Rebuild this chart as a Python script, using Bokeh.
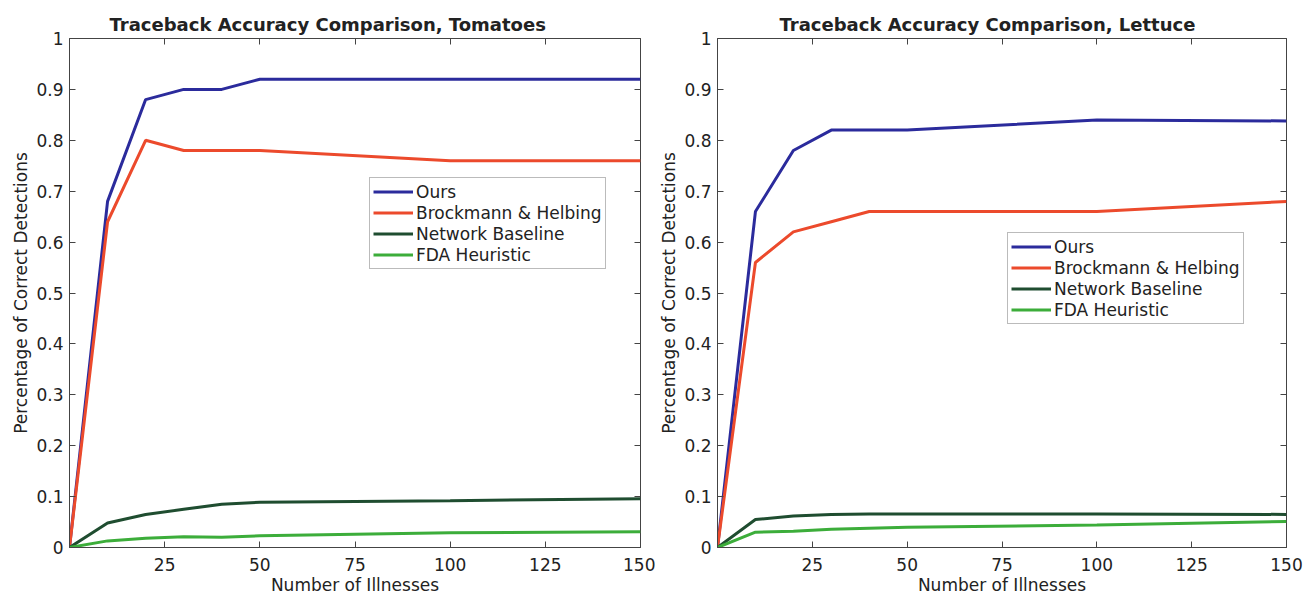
from bokeh.plotting import figure
from bokeh.layouts import row
from bokeh.models import (FixedTicker, LinearAxis, Range1d, Legend, LegendItem,
                          CustomJSTickFormatter, Title)
from bokeh.embed import file_html
from bokeh.resources import INLINE

# Number of illnesses observed
illnesses = [0, 10, 20, 30, 40, 50, 100, 150]

# Tomatoes: fraction of correct source detections
tomato_ours = [0.0, 0.68, 0.88, 0.90, 0.90, 0.92, 0.92, 0.92]
tomato_brockmann = [0.0, 0.64, 0.80, 0.78, 0.78, 0.78, 0.76, 0.76]
tomato_network = [0.0, 0.048, 0.065, 0.075, 0.085, 0.089, 0.092, 0.096]
tomato_fda = [0.0, 0.013, 0.018, 0.021, 0.020, 0.023, 0.029, 0.031]

# Lettuce: fraction of correct source detections
lettuce_ours = [0.0, 0.66, 0.78, 0.82, 0.82, 0.82, 0.84, 0.838]
lettuce_brockmann = [0.0, 0.56, 0.62, 0.64, 0.66, 0.66, 0.66, 0.68]
lettuce_network = [0.0, 0.055, 0.062, 0.065, 0.066, 0.066, 0.066, 0.065]
lettuce_fda = [0.0, 0.030, 0.032, 0.036, 0.038, 0.040, 0.044, 0.051]

series_names = ["Ours", "Brockmann & Helbing", "Network Baseline", "FDA Heuristic"]
series_colors = ["#2b2b9c", "#ec4a2c", "#1f4d30", "#3cad3a"]

x_ticks = [25, 50, 75, 100, 125, 150]
y_ticks = [0, 0.1, 0.2, 0.3, 0.4, 0.5, 0.6, 0.7, 0.8, 0.9, 1]

FONT = "DejaVu Sans"
AX_COLOR = "#444444"
TEXT_COLOR = "#222222"


def style_axis(ax, labels=True, standoff=8, label_standoff=2):
    ax.major_tick_in = 6
    ax.major_tick_out = 0
    ax.minor_tick_line_color = None
    ax.axis_line_color = AX_COLOR
    ax.major_tick_line_color = AX_COLOR
    if labels:
        ax.major_label_text_font = FONT
        ax.major_label_text_font_size = "17px"
        ax.major_label_text_color = TEXT_COLOR
        ax.major_label_standoff = standoff
        ax.axis_label_text_font = FONT
        ax.axis_label_text_font_size = "17px"
        ax.axis_label_text_font_style = "normal"
        ax.axis_label_text_color = TEXT_COLOR
        ax.axis_label_standoff = label_standoff
    else:
        # box ticks only: no labels on the mirrored sides
        ax.formatter = CustomJSTickFormatter(code="return '';")
        ax.major_label_standoff = 0
        ax.axis_line_color = None


def make_panel(title, values, width, b_left, b_right, b_top, title_offset, legend_loc):
    p = figure(width=width, height=597, output_backend="svg", toolbar_location=None,
               x_range=Range1d(0, 150), y_range=Range1d(0, 1),
               min_border_left=b_left, min_border_right=b_right,
               min_border_top=b_top, min_border_bottom=49,
               background_fill_color="white", border_fill_color="white")
    p.title = None
    p.grid.visible = False
    p.outline_line_color = AX_COLOR

    p.xaxis.ticker = FixedTicker(ticks=x_ticks)
    p.yaxis.ticker = FixedTicker(ticks=y_ticks)
    p.yaxis.formatter = CustomJSTickFormatter(
        code="return tick === 0 ? '0' : (tick === 1 ? '1' : tick.toFixed(1));")
    p.xaxis.axis_label = "Number of Illnesses"
    p.yaxis.axis_label = "Percentage of Correct Detections"
    style_axis(p.xaxis[0], standoff=10, label_standoff=1)
    style_axis(p.yaxis[0], standoff=6, label_standoff=2)

    # mirrored tick marks on the top and right edges of the box
    top = LinearAxis(ticker=FixedTicker(ticks=x_ticks))
    right = LinearAxis(ticker=FixedTicker(ticks=y_ticks))
    style_axis(top, labels=False)
    style_axis(right, labels=False)
    p.add_layout(top, "above")
    p.add_layout(right, "right")

    p.add_layout(Title(text=title, align="left", offset=title_offset,
                       text_font=FONT, text_font_size="18px", text_font_style="bold",
                       text_color=TEXT_COLOR, standoff=7), "above")

    items = []
    for name, color, ys in zip(series_names, series_colors, values):
        r = p.line(illnesses, ys, line_color=color, line_width=3)
        items.append(LegendItem(label=name, renderers=[r]))

    legend = Legend(items=items, location=legend_loc,
                    label_text_font=FONT, label_text_font_size="17px",
                    label_text_color=TEXT_COLOR,
                    glyph_width=40, glyph_height=21, label_height=21,
                    label_standoff=3, spacing=0, padding=3, margin=0,
                    border_line_color="#777777", background_fill_alpha=1)
    p.add_layout(legend)
    return p


left = make_panel("Traceback Accuracy Comparison, Tomatoes",
                  [tomato_ours, tomato_brockmann, tomato_network, tomato_fda],
                  655, 69, 15, 38, 40, (300, 278))
right_p = make_panel("Traceback Accuracy Comparison, Lettuce",
                     [lettuce_ours, lettuce_brockmann, lettuce_network, lettuce_fda],
                     648, 62, 17, 36, 62, (290, 223))

layout = row(left, right_p)
open("out.html", "w").write(file_html(layout, INLINE))
